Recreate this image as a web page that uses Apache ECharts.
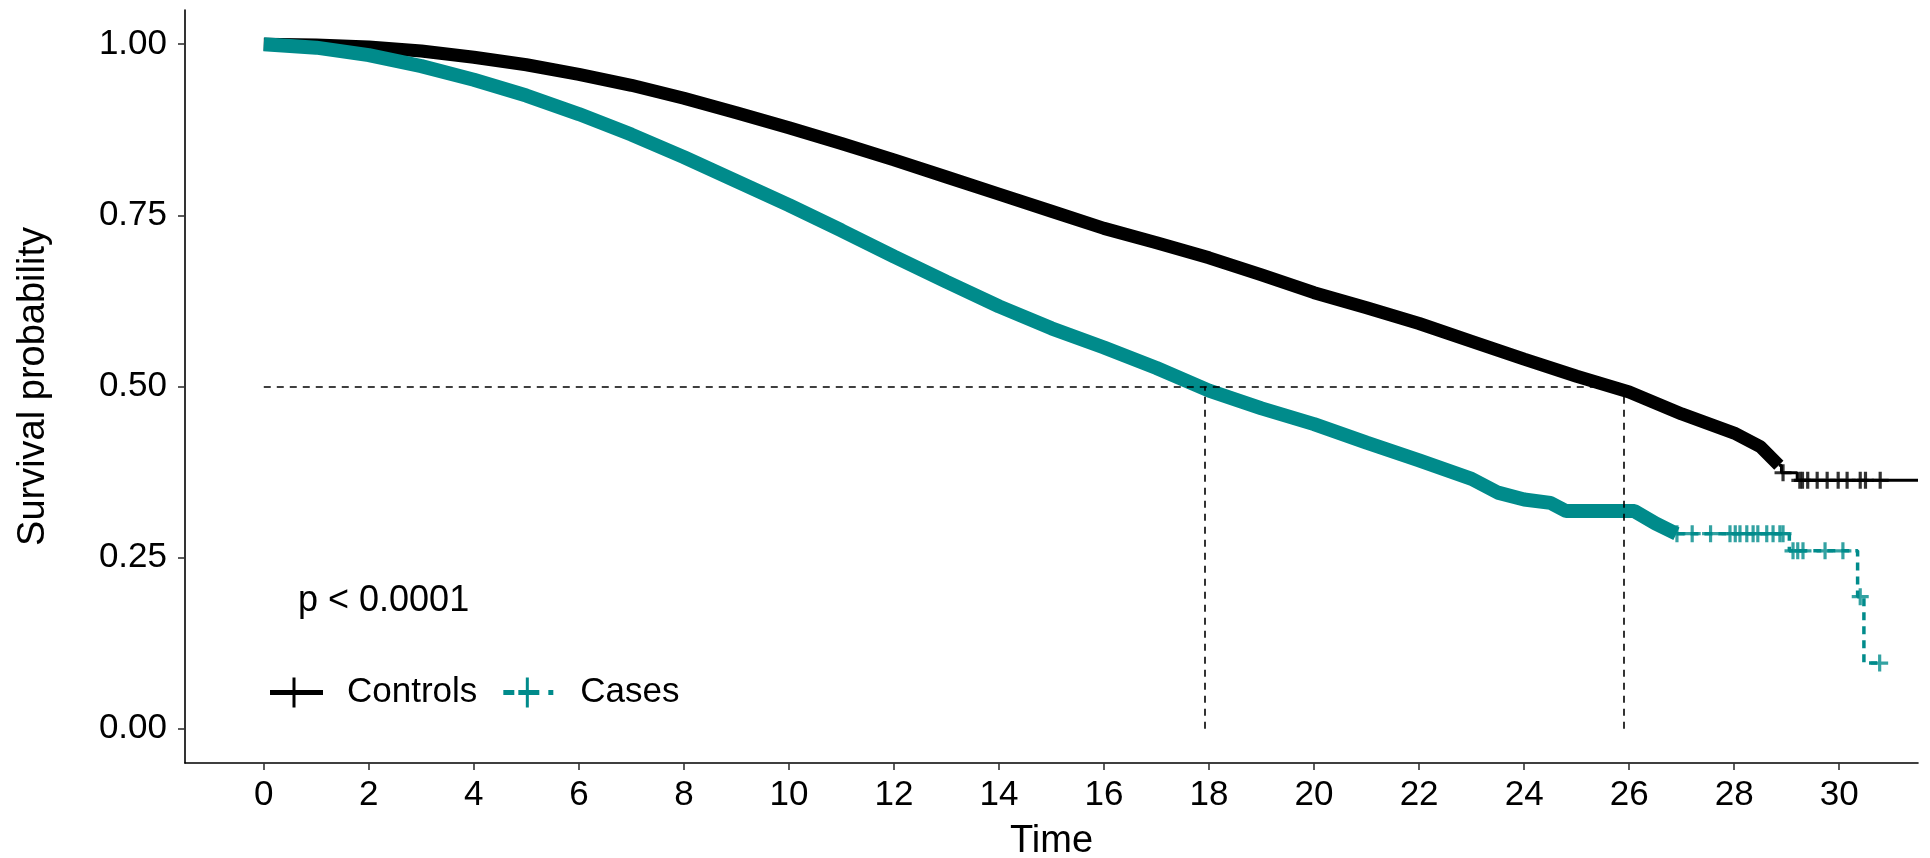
<!DOCTYPE html>
<html><head><meta charset="utf-8">
<script src="https://cdn.jsdelivr.net/npm/echarts@6/dist/echarts.min.js"></script>
<style>html,body{margin:0;padding:0;background:#fff}#c{width:1930px;height:858px}</style>
</head><body><div id="c"></div>
<script>
// ---- data ----
const controlsTime = [0,1,2,3,4,5,6,7,8,9,10,11,12,13,14,15,16,17,18,19,20,21,22,23,24,25,26,27,28,28.5,28.85];
const controlsSurv = [1,0.999,0.996,0.99,0.981,0.97,0.956,0.94,0.921,0.9,0.878,0.855,0.831,0.806,0.781,0.756,0.731,0.71,0.688,0.663,0.637,0.615,0.592,0.566,0.54,0.515,0.492,0.46,0.432,0.412,0.385];
const controlsTailTime = [28.85,28.9,29.2,31.5];
const controlsTailSurv = [0.385,0.374,0.363,0.363];
const controlsCensor = [28.93,29.25,29.3,29.4,29.58,29.77,29.98,30.15,30.4,30.5,30.78];

const casesTime = [0,1,2,3,4,5,6,7,8,9,10,11,12,13,14,15,16,17,18,19,20,21,22,23,23.5,24,24.5,24.8,26.1,26.5,26.9];
const casesSurv = [1,0.995,0.984,0.968,0.948,0.925,0.898,0.868,0.835,0.8,0.765,0.728,0.69,0.653,0.617,0.585,0.557,0.527,0.494,0.468,0.445,0.418,0.392,0.365,0.345,0.335,0.33,0.318,0.318,0.3,0.285];
const casesTailTime = [26.9,29.05,30.35,30.47,30.77];
const casesTailSurv = [0.285,0.26,0.193,0.096,0.096];
const casesCensor = [26.91,27.2,27.55,27.92,28.02,28.11,28.24,28.36,28.45,28.62,28.74,28.87,28.93,29.12,29.21,29.31,29.73,30.07,30.4,30.77];

const medianTimes = [17.92, 25.9];
const medianLevel = 0.5;
const xTicks = [0,2,4,6,8,10,12,14,16,18,20,22,24,26,28,30];
const yTicks = [0,0.25,0.5,0.75,1];
const yTickLabels = ['0.00','0.25','0.50','0.75','1.00'];
const groupNames = ['Controls','Cases'];
const pValueText = 'p < 0.0001';
const xTitle = 'Time';
const yTitle = 'Survival probability';

// ---- helpers ----
const zip = (a,b) => a.map((v,i)=>[v,b[i]]);
function stepAt(times, surv, t){ let s = surv[0]; for(let i=0;i<times.length;i++){ if(times[i] <= t) s = surv[i]; } return s; }
const FONT = 'Liberation Sans, Arial, sans-serif';
const BLACK = '#000000', TEAL = '#008B8B';
const plusPath = 'path://M0,6.5H16V9.5H0Z M6.5,0H9.5V16H6.5Z';
const iconControls = 'path://M0,12.5H53V17.5H0Z M22.5,0H25.5V30H22.5Z';
const iconCases = 'path://M0,12.5H11V17.5H0Z M15,12.5H36V17.5H15Z M22.5,0H25.5V30H22.5Z M45,12.5H50V17.5H45Z M52.9,15H53V15.1H52.9Z';

const chart = echarts.init(document.getElementById('c'), null, {renderer:'canvas'});
chart.setOption({
  animation: false,
  backgroundColor: '#fff',
  grid: {left: 185, right: 12, top: 10, bottom: 95, containLabel: false, outerBoundsMode: 'none'},
  xAxis: {
    type: 'value', min: -1.5, max: 31.5,
    name: xTitle, nameLocation: 'middle', nameGap: 60,
    nameTextStyle: {fontFamily: FONT, fontSize: 38, color: '#000'},
    axisLine: {show: true, onZero: false, lineStyle: {color: '#000', width: 1.6}},
    axisTick: {show: true, length: 7, customValues: xTicks, lineStyle: {color: '#333', width: 1.6}},
    axisLabel: {customValues: xTicks, fontFamily: FONT, fontSize: 35, color: '#000', margin: 15},
    splitLine: {show: false}
  },
  yAxis: {
    type: 'value', min: -0.05, max: 1.05,
    name: yTitle, nameLocation: 'middle', nameGap: 132, nameRotate: 90,
    nameTextStyle: {fontFamily: FONT, fontSize: 38, color: '#000'},
    axisLine: {show: true, onZero: false, lineStyle: {color: '#000', width: 1.6}},
    axisTick: {show: true, length: 7, customValues: yTicks, lineStyle: {color: '#333', width: 1.6}},
    axisLabel: {customValues: yTicks, fontFamily: FONT, fontSize: 35, color: '#000', margin: 18,
      formatter: v => { const i = yTicks.findIndex(t => Math.abs(t - v) < 1e-9); return i >= 0 ? yTickLabels[i] : ''; }},
    splitLine: {show: false}
  },
  legend: {
    data: [{name: groupNames[0], icon: iconControls}, {name: groupNames[1], icon: iconCases}],
    left: 265, top: 670, orient: 'horizontal',
    itemWidth: 53, itemHeight: 30, itemGap: 26, selectedMode: false,
    itemStyle: {borderWidth: 0},
    textStyle: {fontFamily: FONT, fontSize: 35, color: '#000', padding: [0,0,0,19]}
  },
  graphic: [{
    type: 'text', left: 298, top: 583, silent: true,
    style: {text: pValueText, font: '36px ' + FONT, fill: '#000'}
  }],
  series: [
    {name: groupNames[0], type: 'line', data: zip(controlsTime, controlsSurv), showSymbol: false,
     color: BLACK, lineStyle: {width: 13, color: BLACK}, z: 2},
    {name: groupNames[0], type: 'line', step: 'end', data: zip(controlsTailTime, controlsTailSurv), showSymbol: false,
     color: BLACK, lineStyle: {width: 3, color: BLACK}, z: 2},
    {name: groupNames[0], type: 'scatter', symbol: plusPath, symbolSize: 17, color: BLACK,
     data: controlsCensor.map(t => [t, stepAt(controlsTailTime, controlsTailSurv, t)]), z: 2},
    {name: groupNames[1], type: 'line', data: zip(casesTime, casesSurv), showSymbol: false,
     color: TEAL, lineStyle: {width: 14, color: TEAL}, z: 3},
    {name: groupNames[1], type: 'line', step: 'end', data: zip(casesTailTime, casesTailSurv), showSymbol: false,
     color: TEAL, lineStyle: {width: 3.5, color: TEAL, type: [8,6]}, z: 3},
    {name: groupNames[1], type: 'scatter', symbol: plusPath, symbolSize: 17, color: TEAL,
     data: casesCensor.map(t => [t, stepAt(casesTailTime, casesTailSurv, t)]), z: 3},
    {name: 'median', type: 'line', data: [], z: 4, silent: true,
     markLine: {silent: true, symbol: 'none', label: {show: false},
       lineStyle: {color: '#000', width: 1.6, type: [7,6]},
       data: [
         [{coord: [0, medianLevel]}, {coord: [Math.max(...medianTimes), medianLevel]}],
         ...medianTimes.map(t => [{coord: [t, 0]}, {coord: [t, medianLevel]}])
       ]}}
  ]
});
</script></body></html>
